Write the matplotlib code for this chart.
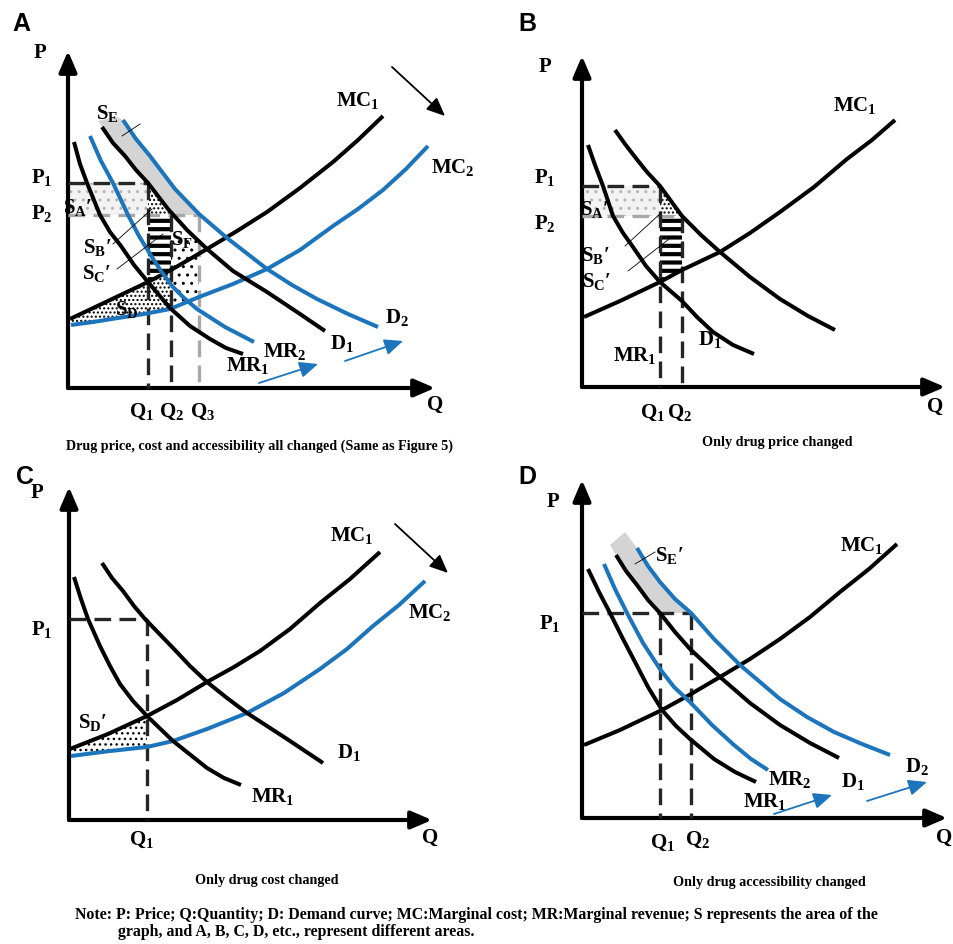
import matplotlib
matplotlib.use("Agg")
import matplotlib.pyplot as plt
from matplotlib.patches import Polygon
import numpy as np

W, H = 954, 945
BLUE = "#1c75bc"
GREY_FILL = "#d4d4d4"
DASH_DARK = "#262626"
DASH_GREY = "#a8a8a8"

plt.rcParams["mathtext.fontset"] = "custom"
plt.rcParams["mathtext.rm"] = "Liberation Serif:bold"
plt.rcParams["mathtext.it"] = "Liberation Serif:bold"
plt.rcParams["mathtext.bf"] = "Liberation Serif:bold"
SERIF = ["Liberation Serif", "DejaVu Serif"]

# ---------------- panel A: price, cost and accessibility all changed
A_P1, A_P2 = 20.5, 17.3
A_Q1, A_Q2, A_Q3 = 8.0, 10.3, 13.1
A_MC1_q = [0.2, 4.0, 8.0, 10.3, 13.9, 16.9, 19.9, 23.2, 26.5, 29.0, 31.5]
A_MC1_p = [6.9, 8.7, 10.6, 11.8, 13.9, 15.7, 17.6, 20.0, 22.6, 24.8, 27.2]
A_MC2_q = [0.3, 2.5, 5.0, 7.6, 10.2, 13.1, 16.5, 19.9, 23.2, 26.5, 29.0, 31.5, 33.8, 36.0]
A_MC2_p = [6.3, 6.6, 7.0, 7.4, 7.9, 9.1, 10.4, 11.9, 13.8, 16.2, 17.9, 19.8, 21.9, 24.2]
A_MR1_q = [0.6, 1.2, 1.9, 3.2, 4.2, 5.3, 6.6, 8.0, 10.2, 12.2, 14.2, 15.8, 17.5]
A_MR1_p = [24.6, 22.4, 20.5, 17.3, 15.6, 14.2, 12.3, 10.6, 8.0, 6.2, 4.9, 4.0, 3.4]
A_MR2_q = [2.2, 3.3, 4.5, 6.0, 7.1, 8.2, 9.3, 10.4, 11.6, 12.9, 15.7, 18.6]
A_MR2_p = [25.2, 22.7, 20.5, 17.3, 15.2, 13.4, 11.7, 10.2, 9.0, 7.9, 6.1, 4.6]
A_D1_q = [3.4, 4.5, 5.7, 6.8, 8.0, 10.0, 11.9, 13.9, 16.5, 19.9, 23.2, 25.7]
A_D1_p = [26.1, 24.5, 23.2, 21.8, 20.5, 17.9, 15.8, 13.9, 11.7, 9.6, 7.4, 5.7]
A_D2_q = [5.5, 6.8, 8.2, 10.7, 13.1, 15.9, 19.9, 22.4, 24.9, 28.0, 31.0]
A_D2_p = [26.8, 24.9, 23.2, 19.9, 17.4, 15.0, 11.9, 10.3, 8.9, 7.4, 6.1]
# shaded areas (vertices)
A_SE_q = [3.0, 4.9, 5.5, 6.8, 8.2, 10.7, 12.9, 10.6, 10.0, 8.0, 6.8, 5.7, 3.4]
A_SE_p = [26.7, 27.1, 26.8, 24.9, 23.2, 19.9, 17.3, 17.3, 17.9, 20.5, 21.8, 23.2, 26.1]
A_SA_q = [0, A_Q1, A_Q1, 0]
A_SA_p = [A_P2, A_P2, A_P1, A_P1]
A_SB_q = [A_Q1, A_Q1, 10.6]
A_SB_p = [A_P1, A_P2, A_P2]
A_SC_q = [A_Q1, A_Q2, A_Q2, A_Q1]
A_SC_p = [A_P2, A_P2, 11.8, 10.6]
A_SD_q = [0.2, 4.0, 8.0, 10.3, 10.3, 7.6, 5.0, 2.5, 0.3]
A_SD_p = [6.9, 8.7, 10.6, 11.8, 7.95, 7.4, 7.0, 6.6, 6.3]
A_SF_q = [A_Q2, A_Q3, A_Q3, A_Q2]
A_SF_p = [15.3, 15.3, 9.1, 7.95]

# ---------------- panel B: only drug price changed
B_P1, B_P2 = 20.1, 17.1
B_Q1, B_Q2 = 7.8, 10.0
B_MC1_q = [0.2, 3.8, 7.8, 10.0, 13.8, 16.8, 19.8, 23.2, 26.5, 29.0, 31.3]
B_MC1_p = [7.0, 8.6, 10.5, 11.7, 13.5, 15.4, 17.5, 20.0, 22.8, 24.7, 26.7]
B_MR1_q = [0.6, 1.3, 2.1, 3.1, 4.1, 5.1, 6.4, 7.8, 10.0, 11.5, 13.1, 15.1, 17.2]
B_MR1_p = [24.2, 22.2, 20.1, 17.1, 15.4, 14.0, 12.1, 10.5, 8.6, 7.0, 5.5, 4.2, 3.3]
B_D1_q = [3.3, 4.3, 5.3, 6.5, 7.8, 10.0, 11.9, 13.8, 16.8, 19.8, 22.6, 25.3]
B_D1_p = [25.7, 24.3, 23.0, 21.5, 20.1, 17.1, 15.2, 13.5, 11.0, 8.8, 7.1, 5.7]
B_SA_q = [0, B_Q1, B_Q1, 0]
B_SA_p = [B_P2, B_P2, B_P1, B_P1]
B_SB_q = [B_Q1, B_Q1, B_Q2]
B_SB_p = [B_P1, B_P2, B_P2]
B_SC_q = [B_Q1, B_Q2, B_Q2, B_Q1]
B_SC_p = [B_P2, B_P2, 11.7, 10.5]

# ---------------- panel C: only drug cost changed
C_P1, C_Q1 = 20.1, 7.8
C_MC1_q = [0.1, 3.9, 7.8, 10.8, 13.8, 16.5, 19.1, 22.1, 25.1, 28.1, 31.1]
C_MC1_p = [7.1, 8.6, 10.4, 12.0, 13.8, 15.3, 16.9, 19.1, 21.7, 24.1, 26.8]
C_MC2_q = [0.2, 4.1, 7.8, 10.4, 13.8, 17.8, 21.5, 25.1, 27.8, 30.4, 33.0, 35.6]
C_MC2_p = [6.4, 6.9, 7.3, 7.9, 9.1, 10.7, 12.7, 15.1, 17.1, 19.4, 21.5, 23.9]
C_MR1_q = [0.5, 1.2, 1.9, 3.1, 4.1, 5.1, 6.4, 7.8, 10.4, 13.8, 15.5, 17.2]
C_MR1_p = [24.3, 22.1, 20.1, 17.4, 15.4, 13.6, 11.9, 10.4, 7.9, 5.2, 4.2, 3.5]
C_D1_q = [3.3, 4.3, 5.4, 6.5, 7.6, 10.5, 12.1, 13.8, 15.8, 17.8, 19.8, 21.8, 23.6, 25.4]
C_D1_p = [25.7, 24.2, 22.9, 21.4, 20.1, 17.1, 15.4, 13.8, 12.2, 10.7, 9.4, 8.1, 6.9, 5.7]
C_SD_q = [0.1, 3.9, 7.8, 7.8, 4.1, 0.2]
C_SD_p = [7.1, 8.6, 10.4, 7.3, 6.9, 6.4]

# ---------------- panel D: only drug accessibility changed
D_P1 = 20.5
D_Q1, D_Q2 = 7.8, 10.9
D_MC1_q = [0.2, 3.8, 8.0, 10.9, 13.8, 16.8, 19.8, 22.8, 25.8, 28.7, 31.5]
D_MC1_p = [7.3, 8.8, 10.8, 12.4, 14.1, 15.9, 17.9, 20.1, 22.6, 24.9, 27.4]
D_MR1_q = [0.6, 1.7, 2.8, 4.0, 5.3, 6.6, 8.0, 9.4, 10.8, 13.2, 15.3, 17.4]
D_MR1_p = [24.9, 22.6, 20.5, 18.1, 15.6, 13.1, 10.8, 9.2, 7.9, 5.9, 4.6, 3.6]
D_MR2_q = [2.2, 3.3, 4.5, 6.1, 7.8, 9.2, 10.8, 13.0, 15.2, 16.9, 18.6]
D_MR2_p = [25.4, 22.9, 20.5, 17.5, 14.9, 13.1, 11.6, 9.3, 7.3, 5.9, 4.8]
D_D1_q = [3.4, 4.4, 5.5, 6.6, 7.8, 9.3, 10.8, 13.8, 16.8, 19.8, 22.8, 25.7]
D_D1_p = [26.3, 24.7, 23.3, 21.8, 20.5, 18.6, 16.9, 14.1, 11.5, 9.3, 7.5, 6.0]
D_D2_q = [5.5, 6.6, 7.8, 9.3, 10.9, 13.2, 15.8, 19.8, 22.5, 25.2, 28.0, 30.8]
D_D2_p = [27.0, 25.2, 23.6, 21.9, 20.5, 17.9, 15.3, 11.9, 10.1, 8.6, 7.4, 6.3]
D_SE_q = [2.8, 4.3, 5.5, 6.6, 7.8, 9.3, 10.9, 7.6, 4.9]
D_SE_p = [27.3, 28.6, 27.0, 25.2, 23.6, 21.9, 20.5, 20.5, 23.7]

NOTE_1 = ("Note: P: Price; Q:Quantity; D: Demand curve; MC:Marginal cost; MR:Marginal revenue; "
          "S represents the area of the")
NOTE_2 = "graph, and A, B, C, D, etc., represent different areas."

fig = plt.figure(figsize=(W / 100, H / 100), dpi=100)


def panel(x0, y0, ptop, qtip):
    # 1 data unit = 10 px, origin at pixel (x0, y0)
    ax = fig.add_axes([(x0 - 70) / W, (H - y0 - 70) / H, 480 / W, 450 / H])
    ax.set_xlim(-7, 41)
    ax.set_ylim(-7, 38)
    ax.axis("off")
    for tip in [(0, ptop), (qtip, 0)]:
        ax.annotate("", xy=tip, xytext=(0, 0),
                    arrowprops=dict(arrowstyle="-|>,head_length=0.7,head_width=0.3",
                                    lw=3, color="k", shrinkA=0, shrinkB=0,
                                    mutation_scale=18))
    return ax


def curve(ax, q, p, color="k"):
    ax.plot(q, p, color=color, lw=2.9, solid_capstyle="butt",
            solid_joinstyle="round", zorder=5)


def area(ax, q, p, face="none", edge="k", hatch=None, hlw=None, z=2):
    patch = Polygon(np.column_stack([q, p]), closed=True, facecolor=face,
                    edgecolor=edge, lw=0, hatch=hatch, zorder=z)
    if hlw is not None and hasattr(patch, "set_hatch_linewidth"):
        patch.set_hatch_linewidth(hlw)
    ax.add_patch(patch)


def dash(ax, q, p, color=DASH_DARK):
    ax.plot(q, p, color=color, lw=2.4, ls=(0, (5, 2.5)), zorder=4)


def label(ax, q, p, s, size=15, ha="center"):
    ax.text(q, p, s, fontsize=size, ha=ha, va="center", family=SERIF,
            weight="bold", zorder=8)


def leader(ax, start, end):
    ax.plot([start[0], end[0]], [start[1], end[1]], color="k", lw=0.6, zorder=7)


def arrow(ax, start, end, color):
    ax.annotate("", xy=end, xytext=start,
                arrowprops=dict(arrowstyle="-|>,head_length=0.8,head_width=0.35",
                                lw=1.3, color=color, shrinkA=0, shrinkB=0,
                                mutation_scale=14))


# ---------------- A
ax = panel(68, 389, 33.7, 36.7)
area(ax, A_SE_q, A_SE_p, face=GREY_FILL, edge="none")
area(ax, A_SA_q, A_SA_p, face="#f3f3f3", edge="#b5b5b5", hatch="..")
area(ax, A_SB_q, A_SB_p, hatch="....")
area(ax, A_SC_q, A_SC_p, hatch="--", hlw=3)
area(ax, A_SD_q, A_SD_p, hatch="....")
area(ax, A_SF_q, A_SF_p, hatch="..")
dash(ax, [0, A_Q3], [A_P2, A_P2], DASH_GREY)
dash(ax, [A_Q3, A_Q3], [A_P2, 0], DASH_GREY)
dash(ax, [0, A_Q1], [A_P1, A_P1])
dash(ax, [A_Q1, A_Q1], [A_P1, 0])
dash(ax, [A_Q2, A_Q2], [A_P2, 0])
curve(ax, A_MC1_q, A_MC1_p)
curve(ax, A_MC2_q, A_MC2_p, BLUE)
curve(ax, A_MR1_q, A_MR1_p)
curve(ax, A_MR2_q, A_MR2_p, BLUE)
curve(ax, A_D1_q, A_D1_p)
curve(ax, A_D2_q, A_D2_p, BLUE)
arrow(ax, (32.4, 32.1), (37.7, 27.2), "k")
arrow(ax, (19.1, 0.5), (25.0, 2.4), BLUE)
arrow(ax, (27.7, 2.7), (33.5, 4.7), BLUE)
leader(ax, (5.4, 25.2), (7.2, 26.4))
leader(ax, (4.5, 14.4), (8.4, 17.9))
leader(ax, (4.9, 11.9), (9.5, 15.4))
label(ax, -2.8, 33.6, "P")
label(ax, -2.6, 21.2, r"$\mathbf{P_1}$")
label(ax, -2.6, 17.6, r"$\mathbf{P_2}$")
label(ax, 7.4, -2.3, r"$\mathbf{Q_1}$")
label(ax, 10.4, -2.3, r"$\mathbf{Q_2}$")
label(ax, 13.5, -2.3, r"$\mathbf{Q_3}$")
label(ax, 36.7, -1.6, "Q")
label(ax, 29.0, 28.9, r"$\mathbf{MC_1}$")
label(ax, 38.5, 22.1, r"$\mathbf{MC_2}$")
label(ax, 3.9, 27.6, r"$\mathbf{S_E}$")
label(ax, 1.0, 18.2, r"$\mathbf{S_A}$′")
label(ax, 2.9, 14.2, r"$\mathbf{S_B}$′")
label(ax, 2.9, 11.6, r"$\mathbf{S_C}$′")
label(ax, 11.4, 14.9, r"$\mathbf{S_F}$")
label(ax, 5.9, 7.9, r"$\mathbf{S_D}$")
label(ax, 32.9, 7.2, r"$\mathbf{D_2}$")
label(ax, 27.4, 4.6, r"$\mathbf{D_1}$")
label(ax, 21.7, 3.7, r"$\mathbf{MR_2}$")
label(ax, 18.0, 2.4, r"$\mathbf{MR_1}$")

# ---------------- B
ax = panel(582, 388, 33.1, 36.3)
area(ax, B_SA_q, B_SA_p, face="#f3f3f3", edge="#b5b5b5", hatch="..")
area(ax, B_SB_q, B_SB_p, hatch="....")
area(ax, B_SC_q, B_SC_p, hatch="--", hlw=3)
dash(ax, [0, B_Q2], [B_P2, B_P2], DASH_GREY)
dash(ax, [0, B_Q1], [B_P1, B_P1])
dash(ax, [B_Q1, B_Q1], [B_P1, 0])
dash(ax, [B_Q2, B_Q2], [B_P2, 0])
curve(ax, B_MC1_q, B_MC1_p)
curve(ax, B_MR1_q, B_MR1_p)
curve(ax, B_D1_q, B_D1_p)
leader(ax, (4.3, 14.1), (8.0, 17.5))
leader(ax, (4.6, 11.6), (9.1, 15.1))
label(ax, -3.7, 32.1, "P")
label(ax, -3.7, 21.1, r"$\mathbf{P_1}$")
label(ax, -3.7, 16.4, r"$\mathbf{P_2}$")
label(ax, 1.3, 17.8, r"$\mathbf{S_A}$′")
label(ax, 1.3, 13.3, r"$\mathbf{S_B}$′")
label(ax, 1.5, 10.6, r"$\mathbf{S_C}$′")
label(ax, 27.3, 28.3, r"$\mathbf{MC_1}$")
label(ax, 12.8, 4.8, r"$\mathbf{D_1}$")
label(ax, 5.3, 3.3, r"$\mathbf{MR_1}$")
label(ax, 7.1, -2.5, r"$\mathbf{Q_1}$")
label(ax, 9.8, -2.5, r"$\mathbf{Q_2}$")
label(ax, 35.3, -1.9, "Q")

# ---------------- C
ax = panel(69, 821, 33.3, 36.3)
area(ax, C_SD_q, C_SD_p, hatch="...")
dash(ax, [0, C_Q1], [C_P1, C_P1])
dash(ax, [C_Q1, C_Q1], [C_P1, 0])
curve(ax, C_MC1_q, C_MC1_p)
curve(ax, C_MC2_q, C_MC2_p, BLUE)
curve(ax, C_MR1_q, C_MR1_p)
curve(ax, C_D1_q, C_D1_p)
arrow(ax, (32.6, 29.6), (37.9, 24.7), "k")
label(ax, -3.2, 32.8, "P")
label(ax, -2.7, 19.1, r"$\mathbf{P_1}$")
label(ax, 7.3, -1.9, r"$\mathbf{Q_1}$")
label(ax, 36.1, -1.7, "Q")
label(ax, 28.3, 28.5, r"$\mathbf{MC_1}$")
label(ax, 36.1, 20.8, r"$\mathbf{MC_2}$")
label(ax, 28.0, 6.8, r"$\mathbf{D_1}$")
label(ax, 20.4, 2.4, r"$\mathbf{MR_1}$")
label(ax, 2.4, 9.8, r"$\mathbf{S_D}$′")

# ---------------- D
ax = panel(582, 819, 33.8, 36.5)
area(ax, D_SE_q, D_SE_p, face=GREY_FILL, edge="none")
dash(ax, [0, D_Q2], [D_P1, D_P1])
dash(ax, [D_Q1, D_Q1], [D_P1, 0])
dash(ax, [D_Q2, D_Q2], [D_P1, 0])
curve(ax, D_MC1_q, D_MC1_p)
curve(ax, D_MR1_q, D_MR1_p)
curve(ax, D_MR2_q, D_MR2_p, BLUE)
curve(ax, D_D1_q, D_D1_p)
curve(ax, D_D2_q, D_D2_p, BLUE)
arrow(ax, (19.2, 0.4), (25.0, 2.3), BLUE)
arrow(ax, (28.5, 1.7), (34.5, 3.6), BLUE)
leader(ax, (5.3, 25.4), (7.3, 26.6))
label(ax, -2.9, 31.7, "P")
label(ax, -3.2, 19.6, r"$\mathbf{P_1}$")
label(ax, 8.7, 26.4, r"$\mathbf{S_E}$′")
label(ax, 28.0, 27.4, r"$\mathbf{MC_1}$")
label(ax, 20.8, 3.9, r"$\mathbf{MR_2}$")
label(ax, 27.1, 3.7, r"$\mathbf{D_1}$")
label(ax, 33.5, 5.2, r"$\mathbf{D_2}$")
label(ax, 18.3, 1.7, r"$\mathbf{MR_1}$")
label(ax, 8.1, -2.4, r"$\mathbf{Q_1}$")
label(ax, 11.6, -2.1, r"$\mathbf{Q_2}$")
label(ax, 36.2, -1.9, "Q")

# ---------------- panel letters, captions and note
for s, x, y in [("A", 21, 24), ("B", 527, 24), ("C", 25, 477), ("D", 527, 477)]:
    fig.text(x / W, 1 - y / H, s, fontsize=18, weight="bold",
             family="Liberation Sans", ha="center", va="center")
captions = [("Drug price, cost and accessibility all changed (Same as Figure 5)", 260, 446),
            ("Only drug price changed", 777, 443),
            ("Only drug cost changed", 267, 881),
            ("Only drug accessibility changed", 769, 883)]
for s, x, y in captions:
    fig.text(x / W, 1 - y / H, s, fontsize=10.2, weight="bold", family=SERIF,
             ha="center", va="center")
fig.text(75 / W, 1 - 915 / H, NOTE_1, fontsize=11.4, weight="bold", family=SERIF,
         ha="left", va="center")
fig.text(118 / W, 1 - 932 / H, NOTE_2, fontsize=11.4, weight="bold", family=SERIF,
         ha="left", va="center")

fig.savefig("out.png", dpi=100)
